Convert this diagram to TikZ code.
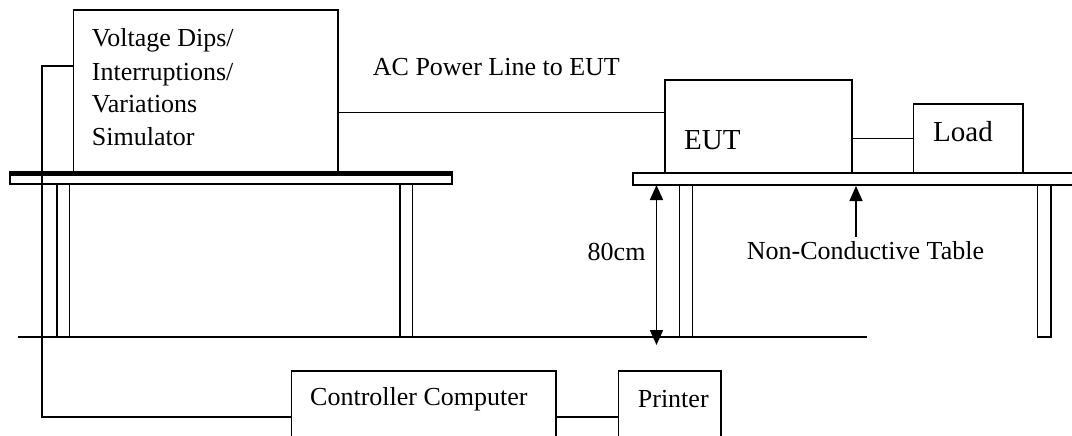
\documentclass[tikz,border=0pt]{standalone}
\usepackage{fontspec}
\setmainfont{Liberation Serif}
\usetikzlibrary{arrows.meta}
\tikzset{
  box/.style={draw, line width=1.6pt, rectangle, inner sep=0pt, anchor=north west},
  wire/.style={line width=1.6pt},
  part/.style={line width=1.6pt},
  lbl/.style={anchor=base west, inner sep=0pt, font=\fontsize{26}{30}\selectfont},
  biglbl/.style={anchor=base west, inner sep=0pt, font=\fontsize{29}{33}\selectfont},
  dim/.style={line width=1.6pt, {Triangle[width=13pt,length=15pt]}-{Triangle[width=13pt,length=15pt]}},
  pointer/.style={line width=1.6pt, -{Triangle[width=13pt,length=15pt]}}
}
\begin{document}
\begin{tikzpicture}[x=1pt,y=-1pt]
\useasboundingbox (0,0) rectangle (1072,436);

% left table
\draw[part] (10,172) rectangle (452,184);
\draw[line width=4pt] (10,173.5) -- (452,173.5);
\draw[part] (57,184) rectangle (69.5,336.7);
\draw[part] (400,184) rectangle (412.5,336.7);

% right table
\draw[part] (633,173) rectangle (1080,185);
\draw[part] (679.5,185) rectangle (692.5,336.7);
\draw[part] (1037.5,185) rectangle (1051,336.7);

% floor
\coordinate (floorL) at (18,336.7);
\coordinate (floorR) at (867,336.7);
\draw[part] (floorL) -- (floorR);

% boxes
\node[box, minimum width=264.3pt, minimum height=163pt] (sim) at (72.7,9) {};
\node[box, minimum width=187pt, minimum height=93pt] (eut) at (664,79) {};
\node[box, minimum width=109.3pt, minimum height=69pt] (load) at (912.7,103) {};
\node[box, minimum width=264.3pt, minimum height=92pt] (ctrl) at (290.7,370) {};
\node[box, minimum width=102.3pt, minimum height=92pt] (prn) at (617.7,370) {};

% box texts
\node[lbl] (t1) at (91.7,46.7) {Voltage Dips/};
\node[lbl] (t2) at (91.7,80.2) {Interruptions/};
\node[lbl] (t3) at (91.7,112.2) {Variations};
\node[lbl] (t4) at (91.7,146) {Simulator};
\node[biglbl] (teut) at (684,149.3) {EUT};
\node[biglbl] (tload) at (933,141.7) {Load};
\node[lbl] (tctrl) at (310,405) {Controller Computer};
\node[lbl] (tprn) at (637.7,407.3) {Printer};

% labels
\node[lbl] (tac) at (372.7,76) {AC Power Line to EUT};
\node[lbl, anchor=base east] (t80) at (645.7,260.7) {80cm};
\node[lbl] (tnct) at (746.7,259) {Non-Conductive Table};

% connectors
\draw[wire] (sim.east |- 0,112.7) -- (eut.west |- 0,112.7);
\draw[wire] (eut.east |- load.west) -- (load.west);
\coordinate (cabletop) at (41.7,66);
\draw[wire] (sim.west |- cabletop) -- (cabletop) |- (ctrl.west);
\draw[wire] (ctrl.east) -- (prn.west);

% dimension and pointer arrows
\coordinate (dimtop) at (656.5,185);
\coordinate (dimbot) at (656.5,345);
\draw[dim] (dimtop) -- (dimbot);
\coordinate (ptail) at (856,237);
\coordinate (phead) at (856,186);
\draw[pointer] (ptail) -- (phead);
\end{tikzpicture}
\end{document}
